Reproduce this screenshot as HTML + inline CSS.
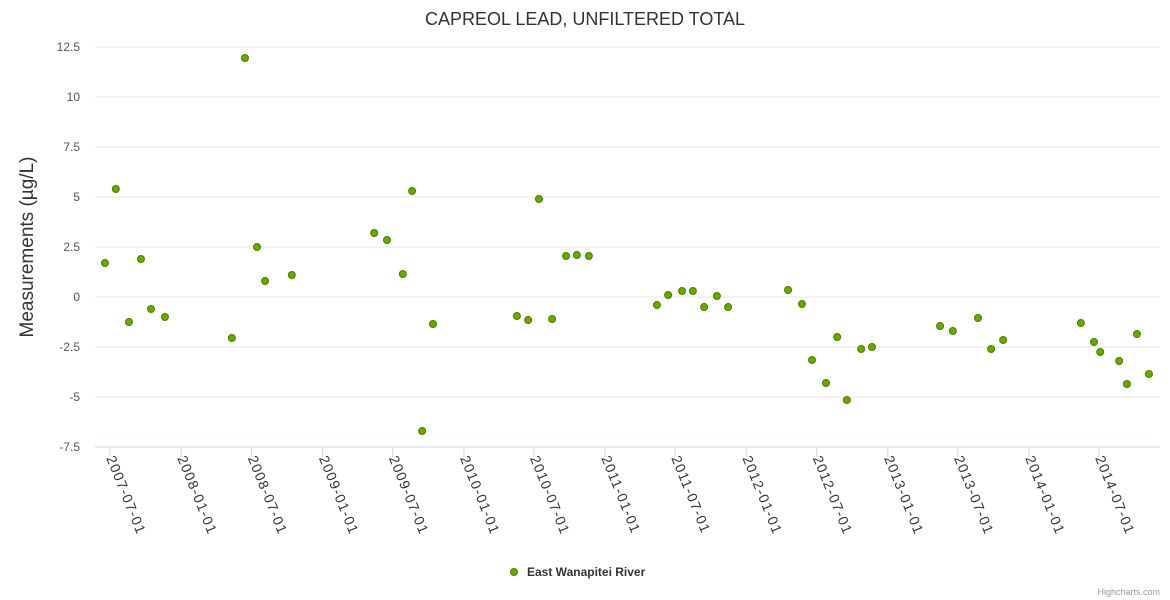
<!DOCTYPE html>
<html><head><meta charset="utf-8"><style>
html,body{margin:0;padding:0;background:#fff;}
svg{display:block;font-family:"Liberation Sans",Arial,sans-serif;}
</style></head><body>
<svg id="chart" width="1170" height="600">
<text x="585" y="25" text-anchor="middle" font-size="18" fill="#333">CAPREOL LEAD, UNFILTERED TOTAL</text>
<text transform="translate(33,247) rotate(-90)" text-anchor="middle" font-size="19" fill="#333">Measurements (µg/L)</text>
<g id="grid"></g><g id="xaxis"></g><g id="points"></g>
<g>
<circle cx="514" cy="572" r="3.5" fill="#6aa800" stroke="#4d7f00" stroke-width="1"/>
<text x="527" y="576" font-size="12" font-weight="bold" fill="#333">East Wanapitei River</text>
</g>
<text x="1160" y="595" text-anchor="end" font-size="9" fill="#999">Highcharts.com</text>
</svg>
<script>
const yTicks=[-7.5,-5,-2.5,0,2.5,5,7.5,10,12.5];
const xTickLabels=["2007-07-01","2008-01-01","2008-07-01","2009-01-01","2009-07-01","2010-01-01","2010-07-01","2011-01-01","2011-07-01","2012-01-01","2012-07-01","2013-01-01","2013-07-01","2014-01-01","2014-07-01"];
const dates=["2007-06-18","2007-07-16","2007-08-19","2007-09-19","2007-10-15","2007-11-20","2008-05-11","2008-06-14","2008-07-15","2008-08-05","2008-10-13","2009-05-14","2009-06-16","2009-07-27","2009-08-20","2009-09-15","2009-10-13","2010-05-18","2010-06-16","2010-07-14","2010-08-17","2010-09-22","2010-10-20","2010-11-20","2011-05-15","2011-06-13","2011-07-19","2011-08-16","2011-09-14","2011-10-17","2011-11-15","2012-04-18","2012-05-24","2012-06-19","2012-07-25","2012-08-23","2012-09-17","2012-10-24","2012-11-21","2013-05-16","2013-06-18","2013-08-22","2013-09-25","2013-10-26","2014-05-15","2014-06-18","2014-07-04","2014-08-22","2014-09-11","2014-10-07","2014-11-07"];
const values=[1.7,5.4,-1.25,1.9,-0.6,-1.0,-2.05,11.95,2.5,0.8,1.1,3.2,2.85,1.15,5.3,-6.7,-1.35,-0.95,-1.15,4.9,-1.1,2.05,2.1,2.05,-0.4,0.1,0.3,0.3,-0.5,0.05,-0.5,0.35,-0.35,-3.15,-4.3,-2.0,-5.15,-2.6,-2.5,-1.45,-1.7,-1.05,-2.6,-2.15,-1.3,-2.25,-2.75,-3.2,-4.35,-1.85,-3.85];
const NS="http://www.w3.org/2000/svg";
const t0=Date.UTC(2007,6,1);
function dayOf(s){const p=s.split("-");return (Date.UTC(+p[0],p[1]-1,+p[2])-t0)/864e5;}
function xScale(s){return 110+dayOf(s)*0.3868;}
function yScale(v){return 297-v*20;}
function mk(tag,attrs,parent){const e=document.createElementNS(NS,tag);for(const k in attrs)e.setAttribute(k,attrs[k]);parent.appendChild(e);return e;}
const grid=document.getElementById("grid");
yTicks.forEach(v=>{
  const y=yScale(v);
  const l=mk("line",{x1:95,x2:1160,y1:y,y2:y,stroke:v===-7.5?"#ccd6eb":"#e6e6e6","stroke-width":1},grid);
  
  
  const t=mk("text",{x:80,y:y+4,"text-anchor":"end","font-size":12,fill:"#555"},grid);
  t.textContent=String(v);
  
  
});
const xa=document.getElementById("xaxis");
xTickLabels.forEach(s=>{
  const x=xScale(s);
  const tk=mk("line",{x1:x,x2:x,y1:447,y2:457,stroke:"#ccd6eb"},xa);
  
  
  const t=mk("text",{transform:`translate(${x-4},${458}) rotate(68)`,"font-size":14,"letter-spacing":"1.2",fill:"#333"},xa);
  t.textContent=s;
  
  
});
const pg=document.getElementById("points");
dates.forEach((d,i)=>{
  const c=mk("circle",{cx:xScale(d),cy:yScale(values[i]),r:3.5,fill:"#6aa800",stroke:"#4d7f00","stroke-width":1},pg);
  
  
});
</script>
</body></html>
